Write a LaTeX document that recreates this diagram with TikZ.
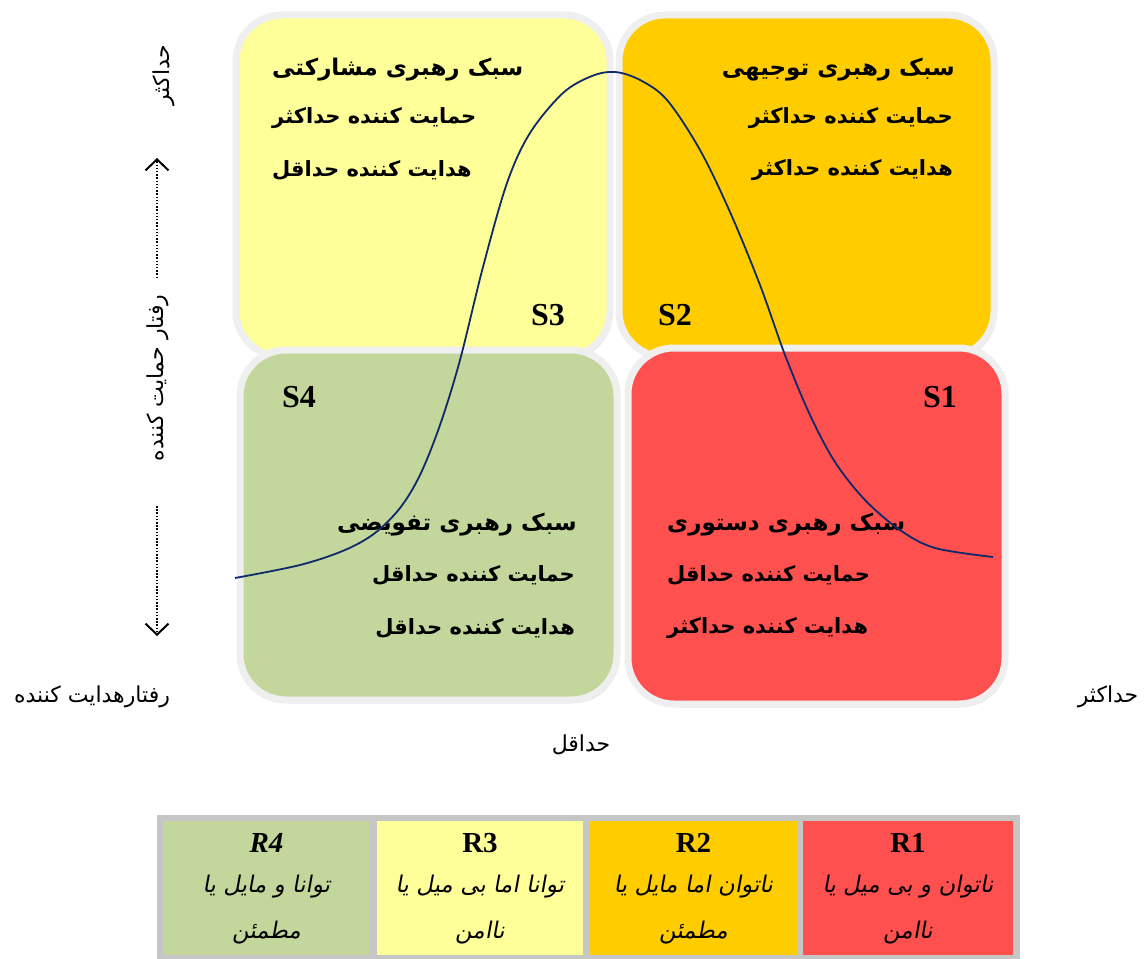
\documentclass[tikz,border=0pt]{standalone}
\usepackage{fontspec}
\usetikzlibrary{arrows.meta, positioning, shadows}
\TeXXeTstate=1
\newfontfamily\arabicfont[Script=Arabic]{DejaVu Sans}
\newfontfamily\arabicslant[Script=Arabic,FakeSlant=0.18]{DejaVu Sans}
\newfontfamily\latinserif{Liberation Serif}
\definecolor{styleyellow}{HTML}{FFFF99}
\definecolor{styleorange}{HTML}{FFCC00}
\definecolor{stylegreen}{HTML}{C3D69B}
\definecolor{stylered}{HTML}{FF5050}
\definecolor{curveblue}{HTML}{0F2A6B}
\definecolor{ringgray}{HTML}{EFEFEF}
\definecolor{framegray}{HTML}{C6C6C6}

\begin{document}
\begin{tikzpicture}[
                x=1pt, y=-1pt,
                stylebox/.style={draw=ringgray, line width=7pt, rounded corners=46pt, inner sep=0pt,
                    drop shadow={shadow xshift=2pt, shadow yshift=-3pt, fill=gray!80, opacity=0.6}},
                boxtitle/.style={font=\arabicfont\bfseries\fontsize{23}{28}\selectfont, inner sep=0pt},
                boxline/.style={font=\arabicfont\bfseries\fontsize{21}{25}\selectfont, inner sep=0pt},
                slabel/.style={font=\latinserif\bfseries\fontsize{32}{36}\selectfont, inner sep=0pt},
                axislabel/.style={font=\arabicfont\fontsize{22}{26}\selectfont, inner sep=0pt},
                axisline/.style={line width=1.5pt, dash pattern=on 1.5pt off 1.7pt,
                    -{Straight Barb[length=11pt, width=23pt, line width=2pt]}},
                cell/.style={inner sep=0pt, minimum height=134pt},
                rlabel/.style={font=\latinserif\bfseries\fontsize{29}{32}\selectfont, inner sep=0pt},
                rtext/.style={font=\arabicslant\fontsize{23}{27}\selectfont, inner sep=0pt}
            ]
            \newcommand{\fatext}[1]{\beginR #1\endR}

            \useasboundingbox[fill=white] (0,0) rectangle (1145,958);

            % top row of styles
            \node[stylebox, fill=styleyellow, minimum width=374pt, minimum height=342pt] (s3) at (423,186) {};
            \node[stylebox, fill=styleorange, minimum width=375pt, minimum height=342pt] (s2) at (806.5,186) {};
            % bottom row of styles
            \node[stylebox, fill=stylegreen, minimum width=377pt, minimum height=350pt] (s4) at (428.5,525) {};
            \node[stylebox, fill=stylered, minimum width=377pt, minimum height=356pt] (s1) at (816.5,526) {};

            \node[boxtitle, anchor=west] (s3title) at (272,70) {\fatext{سبک رهبری مشارکتی}};
            \node[boxline, anchor=west] (s3sup) at (272,118) {\fatext{حمایت کننده حداکثر}};
            \node[boxline, anchor=west] (s3dir) at (272,170) {\fatext{هدایت کننده حداقل}};
            \node[slabel] (s3name) at (548,315) {S3};

            \node[boxtitle, anchor=east] (s2title) at (955,70) {\fatext{سبک رهبری توجیهی}};
            \node[boxline, anchor=east] (s2sup) at (953,118) {\fatext{حمایت کننده حداکثر}};
            \node[boxline, anchor=east] (s2dir) at (953,170) {\fatext{هدایت کننده حداکثر}};
            \node[slabel] (s2name) at (675,315) {S2};

            \node[boxtitle, anchor=east] (s4title) at (577,525) {\fatext{سبک رهبری تفویضی}};
            \node[boxline, anchor=east] (s4sup) at (575,575) {\fatext{حمایت کننده حداقل}};
            \node[boxline, anchor=east] (s4dir) at (575,628) {\fatext{هدایت کننده حداقل}};
            \node[slabel] (s4name) at (299,397) {S4};

            \node[boxtitle, anchor=west] (s1title) at (667,525) {\fatext{سبک رهبری دستوری}};
            \node[boxline, anchor=west] (s1sup) at (667,575) {\fatext{حمایت کننده حداقل}};
            \node[boxline, anchor=west] (s1dir) at (667,628) {\fatext{هدایت کننده حداکثر}};
            \node[slabel] (s1name) at (940,397) {S1};

            % the curve over the four styles
            \draw[curveblue, line width=1.8pt] plot[smooth, tension=0.55] coordinates {
                (235,578) (300,565) (345,550) (375,533) (400,508) (420,475) (440,425)
                (460,360) (483,267) (507,183) (530,133) (563,93) (592,76) (615,72)
                (640,80) (667,100) (700,150) (730,212) (760,285) (785,355) (810,415)
                (835,462) (865,500) (900,530) (935,548) (993,557)};

            % supportive axis
            \node[axislabel, rotate=90] (supmax) at (164,75) {\fatext{حداکثر}};
            \node[axislabel, rotate=90] (supaxis) at (158,378) {\fatext{رفتار حمایت کننده}};
            \coordinate (uptip) at (157,158);
            \coordinate (upend) at (157,278);
            \coordinate (downend) at (157,506);
            \coordinate (downtip) at (157,636);
            \draw[axisline] (upend) -- (uptip);
            \draw[axisline] (downend) -- (downtip);

            % directive axis
            \node[axislabel] (dirlabel) at (92,697) {\fatext{رفتارهدایت کننده}};
            \node[axislabel] (dirmax) at (1108,697) {\fatext{حداکثر}};
            \node[axislabel] (dirmin) at (581,745) {\fatext{حداقل}};

            % readiness table
            \node[fill=framegray, inner sep=0pt, minimum width=863pt, minimum height=150pt] (readiness) at (588.5,890) {};
            \node[cell, fill=stylegreen, minimum width=207pt] (r4) at (266.5,888) {};
            \node[cell, fill=styleyellow, minimum width=206pt] (r3) at (480,888) {};
            \node[cell, fill=styleorange, minimum width=207pt] (r2) at (693.5,888) {};
            \node[cell, fill=stylered, minimum width=210pt] (r1) at (908,888) {};

            \node[rlabel, font=\latinserif\bfseries\itshape\fontsize{29}{32}\selectfont] (r4name) at (266.5,843) {R4};
            \node[rtext] (r4a) at (266.5,887) {\fatext{توانا و مایل یا}};
            \node[rtext] (r4b) at (266.5,933) {\fatext{مطمئن}};

            \node[rlabel] (r3name) at (480,843) {R3};
            \node[rtext] (r3a) at (480,887) {\fatext{توانا اما بی میل یا}};
            \node[rtext] (r3b) at (480,933) {\fatext{ناامن}};

            \node[rlabel] (r2name) at (693.5,843) {R2};
            \node[rtext] (r2a) at (693.5,887) {\fatext{ناتوان اما مایل یا}};
            \node[rtext] (r2b) at (693.5,933) {\fatext{مطمئن}};

            \node[rlabel] (r1name) at (908,843) {R1};
            \node[rtext] (r1a) at (908,887) {\fatext{ناتوان و بی میل یا}};
            \node[rtext] (r1b) at (908,933) {\fatext{ناامن}};

        \end{tikzpicture}
\end{document}
